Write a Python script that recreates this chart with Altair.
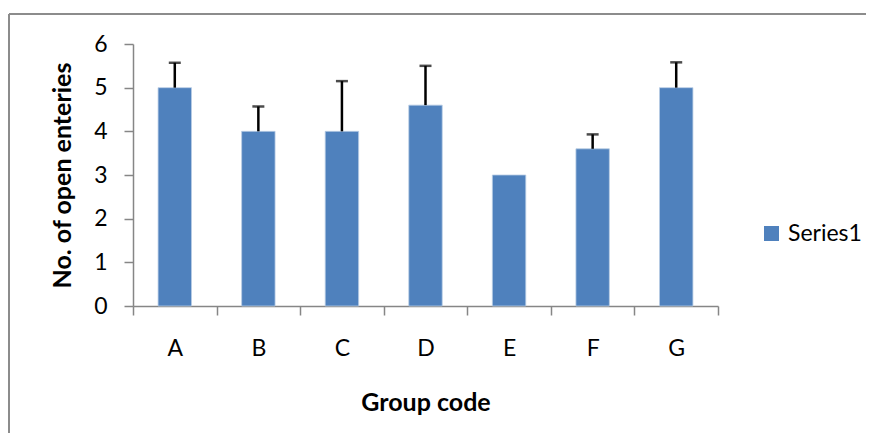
import altair as alt
import pandas as pd

groups = ["A", "B", "C", "D", "E", "F", "G"]
values = [5.0, 4.0, 4.0, 4.6, 3.0, 3.6, 5.0]
errors = [0.57, 0.57, 1.15, 0.9, 0.0, 0.33, 0.58]
series = "Series1"

df = pd.DataFrame({"group": groups, "value": values, "err": errors})
df["top"] = df["value"] + df["err"]
df["series"] = series

FONT = "Lato"
BAR = "#4F81BD"
GRAY = "#868686"

x_scale = alt.Scale(paddingInner=0, paddingOuter=0)

x_enc = alt.X("group:N", sort=groups, scale=x_scale,
              axis=alt.Axis(title="Group code", labelAngle=0, tickBand="extent",
                            domainColor=GRAY, tickColor=GRAY, tickSize=9,
                            domainWidth=1.5, tickWidth=1.5,
                            labelFontSize=23, labelColor="black", labelFont=FONT,
                            labelPadding=22,
                            titleFontSize=25, titleFont=FONT, titleFontWeight="bold",
                            titleColor="black", titleY=96, titleBaseline="middle"))

y_scale = alt.Scale(domain=[0, 6], nice=False)

bars = alt.Chart(df).mark_bar(stroke="#B9CDE5", strokeWidth=0.8,
                              width=alt.RelativeBandSize(0.4)).encode(
    x=x_enc,
    y=alt.Y("value:Q", scale=y_scale,
            axis=alt.Axis(title="No. of open enteries", values=[0, 1, 2, 3, 4, 5, 6],
                          grid=False, domainColor=GRAY, tickColor=GRAY, tickSize=9,
                          domainWidth=1.5, tickWidth=1.5,
                          labelFontSize=23, labelColor="black", labelFont=FONT,
                          labelPadding=17,
                          titleFontSize=25, titleFont=FONT, titleFontWeight="bold",
                          titleColor="black", titleX=-71, titleY=131,
                          titleBaseline="middle", titleAlign="center", titleAngle=-90)),
    color=alt.Color("series:N", scale=alt.Scale(range=[BAR]),
                    legend=alt.Legend(title=None, orient="none", legendX=627, legendY=178,
                                      symbolType="square", symbolSize=225,
                                      symbolStrokeWidth=0, labelFontSize=23,
                                      labelFont=FONT, labelColor="black", labelOffset=5)),
)

err_df = df[df["err"] > 0]
rules = alt.Chart(err_df).mark_rule(color="black", strokeWidth=2.5).encode(
    x=alt.X("group:N", sort=groups, scale=x_scale),
    y=alt.Y("value:Q", scale=y_scale),
    y2="top:Q",
)
caps = alt.Chart(err_df).mark_tick(color="black", thickness=2.5, size=12, orient="horizontal").encode(
    x=alt.X("group:N", sort=groups, scale=x_scale),
    y=alt.Y("top:Q", scale=y_scale),
)

frame_df = pd.DataFrame({"k": [0]})
frame_top = alt.Chart(frame_df).mark_rule(color="#8c8c8c", strokeWidth=2).encode(
    x=alt.value(-124), x2=alt.value(740), y=alt.value(-30))
frame_left = alt.Chart(frame_df).mark_rule(color="#8c8c8c", strokeWidth=2).encode(
    x=alt.value(-124), y=alt.value(-30), y2=alt.value(400))

chart = alt.layer(frame_top, frame_left, bars, rules, caps).properties(
    width=585, height=262,
    background="white",
    autosize=alt.AutoSizeParams(type="none"),
    padding={"left": 125, "top": 36, "right": 148, "bottom": 127},
).configure_view(stroke=None)

chart.save("out.html", embed_options={"renderer": "svg", "actions": False})
